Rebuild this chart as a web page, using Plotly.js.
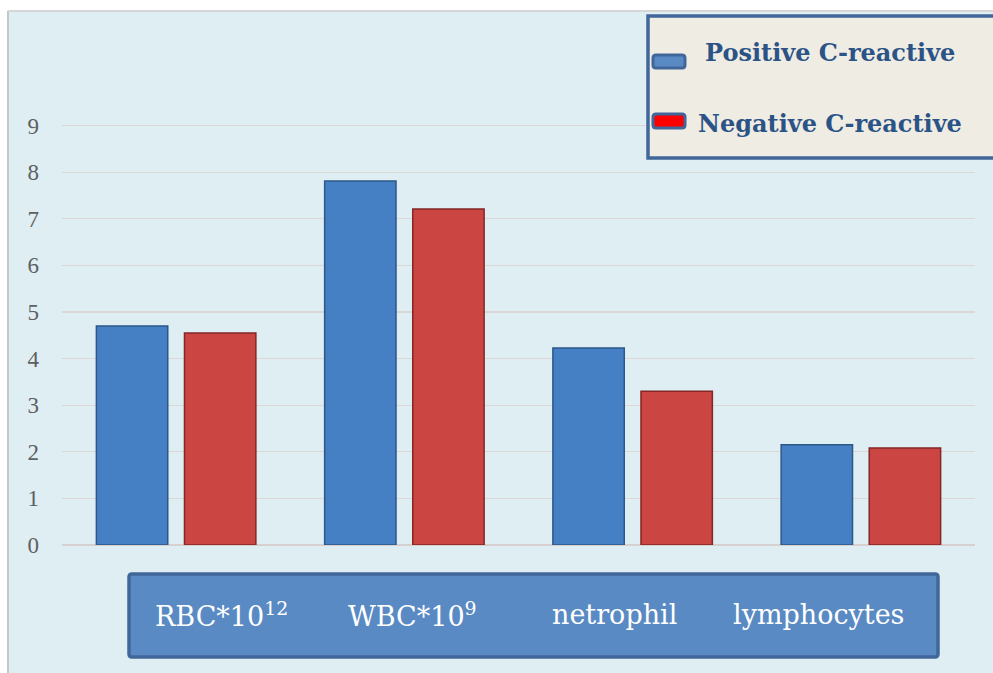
<!DOCTYPE html>
<html>
<head>
<meta charset="utf-8">
<script src="https://cdn.plot.ly/plotly-3.0.1.min.js"></script>
<style>html,body{margin:0;padding:0;background:#fff;}#chart{width:993px;height:673px;}</style>
</head>
<body>
<div id="chart"></div>
<script>
// ---- data ----
const categories = ["RBC*10<sup>12</sup>", "WBC*10<sup>9</sup>", "netrophil", "lymphocytes"];
const seriesNames = ["Positive C-reactive", "Negative C-reactive"];
const positiveValues = [4.70, 7.81, 4.23, 2.15];
const negativeValues = [4.55, 7.21, 3.30, 2.08];
const yTickValues = [0, 1, 2, 3, 4, 5, 6, 7, 8, 9];

// ---- layout helpers (pixel -> paper) ----
const W = 993, H = 673;
const mL = 62, mR = 18, mT = 79, mB = 128;
const pw = W - mL - mR, ph = H - mT - mB;
const px = x => (x - mL) / pw;
const py = y => (H - mB - y) / ph;

const serif = "DejaVu Serif, Liberation Serif, serif";

const traces = [
  {
    type: "bar", name: seriesNames[0], x: categories, y: positiveValues,
    marker: {color: "#4580c5", line: {color: "#2d5788", width: 1.5}},
    showlegend: false
  },
  {
    type: "bar", name: seriesNames[1], x: categories, y: negativeValues,
    marker: {color: "#cb4643", line: {color: "#842624", width: 1.5}},
    showlegend: false
  }
];

function roundRect(x0, y0, x1, y1, r) {
  const rx = r / pw, ry = r / ph;
  const X0 = px(x0), X1 = px(x1), Y0 = py(y0), Y1 = py(y1);
  return `M ${X0 + rx},${Y0} L ${X1 - rx},${Y0} Q ${X1},${Y0} ${X1},${Y0 - ry} ` +
         `L ${X1},${Y1 + ry} Q ${X1},${Y1} ${X1 - rx},${Y1} L ${X0 + rx},${Y1} ` +
         `Q ${X0},${Y1} ${X0},${Y1 + ry} L ${X0},${Y0 - ry} Q ${X0},${Y0} ${X0 + rx},${Y0} Z`;
}

const shapes = [
  {type: "rect", xref: "paper", yref: "paper", x0: px(0), x1: px(7), y0: py(673), y1: py(0), fillcolor: "#ffffff", line: {width: 0}, layer: "below"},
  {type: "rect", xref: "paper", yref: "paper", x0: px(0), x1: px(993), y0: py(10), y1: py(0), fillcolor: "#ffffff", line: {width: 0}, layer: "below"},
  {type: "line", xref: "paper", yref: "paper", x0: px(8), x1: px(8), y0: py(673), y1: py(11), line: {color: "#c6c6c6", width: 2}, layer: "below"},
  {type: "line", xref: "paper", yref: "paper", x0: px(8), x1: px(993), y0: py(11), y1: py(11), line: {color: "#d6d6d6", width: 2}, layer: "below"},
  // legend box
  {type: "rect", xref: "paper", yref: "paper", x0: px(648), x1: px(1000), y0: py(158), y1: py(16), fillcolor: "#efece4", line: {color: "#41679a", width: 3.5}},
  {type: "path", xref: "paper", yref: "paper", path: roundRect(653, 55, 685, 68, 3), fillcolor: "#5a8ac4", line: {color: "#41679a", width: 3}},
  {type: "path", xref: "paper", yref: "paper", path: roundRect(653, 114, 685, 128, 3), fillcolor: "#ff0000", line: {color: "#41679a", width: 3}},
  // category label box
  {type: "path", xref: "paper", yref: "paper", path: roundRect(129, 574, 938, 657, 3), fillcolor: "#5a8ac3", line: {color: "#41679a", width: 3.5}}
];

const labelCentersPx = [221, 412, 614, 818];
const annotations = [
  {xref: "paper", yref: "paper", x: px(830), y: py(52), text: "<b>" + seriesNames[0] + "</b>", showarrow: false,
   font: {family: serif, size: 24, color: "#2b5386"}, xanchor: "center", yanchor: "middle"},
  {xref: "paper", yref: "paper", x: px(830), y: py(124), text: "<b>" + seriesNames[1] + "</b>", showarrow: false,
   font: {family: serif, size: 24, color: "#2b5386"}, xanchor: "center", yanchor: "middle"}
].concat(categories.map((c, i) => ({
  xref: "paper", yref: "paper", x: px(labelCentersPx[i]), y: py(614), text: c, showarrow: false,
  font: {family: serif, size: 27, color: "#ffffff"}, xanchor: "center", yanchor: "middle"
})));

const layout = {
  width: W, height: H,
  margin: {l: mL, r: mR, t: mT, b: mB, pad: 0},
  paper_bgcolor: "#deeef3",
  plot_bgcolor: "rgba(0,0,0,0)",
  barmode: "group",
  bargap: 0.228,
  bargroupgap: 0.19,
  showlegend: false,
  xaxis: {showticklabels: false, showgrid: false, zeroline: false, showline: false, ticks: ""},
  yaxis: {
    range: [0, 10], tickvals: yTickValues, ticktext: yTickValues.map(String),
    showgrid: true, gridcolor: "#dcd6d6", gridwidth: 1.3,
    zeroline: true, zerolinecolor: "#d6d0d0", zerolinewidth: 2,
    showline: false, ticks: "", ticklabelstandoff: 22,
    tickfont: {family: "Liberation Serif, serif", size: 23, color: "#5f5f5f"}
  },
  shapes: shapes,
  annotations: annotations
};

Plotly.newPlot("chart", traces, layout, {displayModeBar: false, staticPlot: true});
</script>
</body>
</html>
